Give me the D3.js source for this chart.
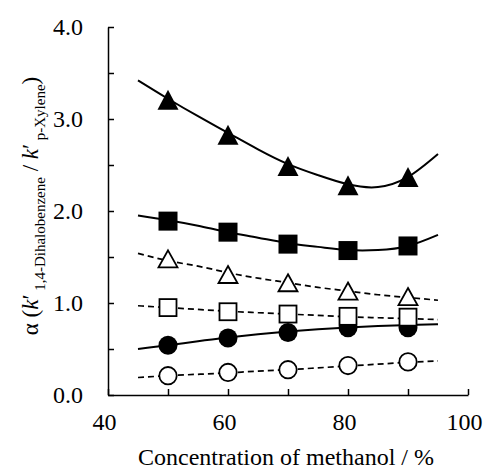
<!DOCTYPE html>
<html>
<head>
<meta charset="utf-8">
<script src="https://cdn.jsdelivr.net/npm/d3@7"></script>
<style>
    body { margin: 0; background: #fff; }
    svg { display: block; font-family: "Liberation Serif", "Times New Roman", serif; }
    .axis text { font-size: 24px; fill: #000; font-family: "Liberation Serif", serif; }
    .axis path, .axis line { stroke: #000; stroke-width: 1.5; }
</style>
</head>
<body>
<div id="chart"></div>
<script>
// measured points (methanol %)
const concentrations = [50, 60, 70, 80, 90];
const filledTriangle = [3.21, 2.83, 2.49, 2.28, 2.37];
const filledSquare = [1.89, 1.77, 1.64, 1.57, 1.62];
const openTriangle = [1.48, 1.31, 1.22, 1.13, 1.07];
const openSquare = [0.95, 0.905, 0.88, 0.855, 0.846];
const filledCircle = [0.54, 0.62, 0.68, 0.73, 0.73];
const openCircle = [0.21, 0.245, 0.275, 0.32, 0.36];

// fitted curves
const fitX = [45, 50, 55, 60, 65, 70, 75, 80, 85, 90, 95];
const fitFilledTriangle = [3.42, 3.22, 3.03, 2.85, 2.67, 2.51, 2.39, 2.29, 2.26, 2.37, 2.62];
const fitFilledSquare = [1.95, 1.90, 1.84, 1.77, 1.71, 1.65, 1.61, 1.575, 1.575, 1.62, 1.74];
const fitOpenTriangle = [1.54, 1.46, 1.40, 1.33, 1.27, 1.22, 1.17, 1.13, 1.09, 1.06, 1.03];
const fitOpenSquare = [0.97, 0.95, 0.93, 0.91, 0.895, 0.88, 0.865, 0.85, 0.84, 0.83, 0.82];
const fitFilledCircle = [0.50, 0.54, 0.585, 0.625, 0.66, 0.69, 0.715, 0.735, 0.75, 0.76, 0.77];
const fitOpenCircle = [0.19, 0.21, 0.225, 0.24, 0.26, 0.275, 0.295, 0.315, 0.335, 0.355, 0.37];

const xTicks = [40, 50, 60, 70, 80, 90, 100];
const xLabels = [40, 60, 80, 100];
const yTicks = [0, 0.5, 1, 1.5, 2, 2.5, 3, 3.5, 4];

// draw order matters: open squares sit on top of filled circles
const series = [
    {values: filledTriangle, fit: fitFilledTriangle, shape: 'triangle', filled: true},
    {values: filledSquare, fit: fitFilledSquare, shape: 'square', filled: true},
    {values: openTriangle, fit: fitOpenTriangle, shape: 'triangle', filled: false},
    {values: filledCircle, fit: fitFilledCircle, shape: 'circle', filled: true},
    {values: openSquare, fit: fitOpenSquare, shape: 'square', filled: false},
    {values: openCircle, fit: fitOpenCircle, shape: 'circle', filled: false}
];

const width = 484, height = 470;
const margin = {top: 27, right: 16, bottom: 75, left: 108};
const innerW = width - margin.left - margin.right;
const innerH = height - margin.top - margin.bottom;

const svg = d3.select('#chart').append('svg')
    .attr('width', width)
    .attr('height', height);

const chart = svg.append('g')
    .attr('transform', `translate(${margin.left},${margin.top})`);

const xScale = d3.scaleLinear().domain([40, 100]).range([0, innerW]);
const yScale = d3.scaleLinear().domain([0, 4]).range([innerH, 0]);

// axes, ticks pointing inward
const xAxis = d3.axisBottom(xScale)
    .tickValues(xTicks)
    .tickSizeInner(-6)
    .tickSizeOuter(0)
    .tickPadding(18)
    .tickFormat(d => xLabels.includes(d) ? d : '');

const yAxis = d3.axisLeft(yScale)
    .tickValues(yTicks)
    .tickSizeInner(-6)
    .tickSizeOuter(0)
    .tickPadding(25)
    .tickFormat(d => Number.isInteger(d) ? d.toFixed(1) : '');

chart.append('g')
    .attr('class', 'axis x-axis')
    .attr('transform', `translate(0,${innerH})`)
    .call(xAxis)
    .call(g => g.selectAll('text').attr('dx', '-4px'));

chart.append('g')
    .attr('class', 'axis y-axis')
    .call(yAxis);

const line = d3.line()
    .x(d => xScale(d[0]))
    .y(d => yScale(d[1]))
    .curve(d3.curveNatural);

const triPath = (w, h) => `M0,${-h / 2}L${w / 2},${h / 2}L${-w / 2},${h / 2}Z`;

series.forEach(s => {
    const g = chart.append('g');

    g.append('path')
        .datum(fitX.map((x, i) => [x, s.fit[i]]))
        .attr('fill', 'none')
        .attr('stroke', '#000')
        .attr('stroke-width', s.filled ? 2 : 1.7)
        .attr('stroke-dasharray', s.filled ? null : '6,4')
        .attr('d', line);

    const pts = concentrations.map((x, i) => [x, s.values[i]]);
    const fill = s.filled ? '#000' : '#fff';
    const sw = s.filled ? 0 : 1.8;

    if (s.shape === 'circle') {
        g.selectAll('circle').data(pts).join('circle')
            .attr('cx', d => xScale(d[0]))
            .attr('cy', d => yScale(d[1]))
            .attr('r', s.filled ? 9.5 : 8.7)
            .attr('fill', fill)
            .attr('stroke', '#000')
            .attr('stroke-width', sw);
    } else if (s.shape === 'square') {
        const size = s.filled ? 19 : 17;
        g.selectAll('rect').data(pts).join('rect')
            .attr('x', d => xScale(d[0]) - size / 2)
            .attr('y', d => yScale(d[1]) - size / 2)
            .attr('width', size)
            .attr('height', size)
            .attr('fill', fill)
            .attr('stroke', '#000')
            .attr('stroke-width', sw);
    } else {
        const w = s.filled ? 21 : 19, h = s.filled ? 20 : 17;
        g.selectAll('path.marker').data(pts).join('path')
            .attr('class', 'marker')
            .attr('transform', d => `translate(${xScale(d[0])},${yScale(d[1])})`)
            .attr('d', triPath(w, h))
            .attr('fill', fill)
            .attr('stroke', '#000')
            .attr('stroke-width', sw)
            .attr('stroke-linejoin', 'miter');
    }
});

// axis titles
svg.append('text')
    .attr('x', margin.left + innerW / 2 - 2)
    .attr('y', 465)
    .attr('text-anchor', 'middle')
    .style('font-size', '24px')
    .text('Concentration of methanol / %');

const yTitle = svg.append('text')
    .attr('transform', 'translate(38,206) rotate(-90)')
    .attr('text-anchor', 'middle')
    .style('font-size', '23px');

yTitle.append('tspan').text('α (');
yTitle.append('tspan').style('font-style', 'italic').text('k');
yTitle.append('tspan').text('′');
yTitle.append('tspan').attr('dy', 7).style('font-size', '15px').text(' 1,4-Dihalobenzene');
yTitle.append('tspan').attr('dy', -7).text(' / ');
yTitle.append('tspan').style('font-style', 'italic').text('k');
yTitle.append('tspan').text('′');
yTitle.append('tspan').attr('dy', 7).style('font-size', '15px').text(' p-Xylene');
yTitle.append('tspan').attr('dy', -7).text(')');
</script>
</body>
</html>
